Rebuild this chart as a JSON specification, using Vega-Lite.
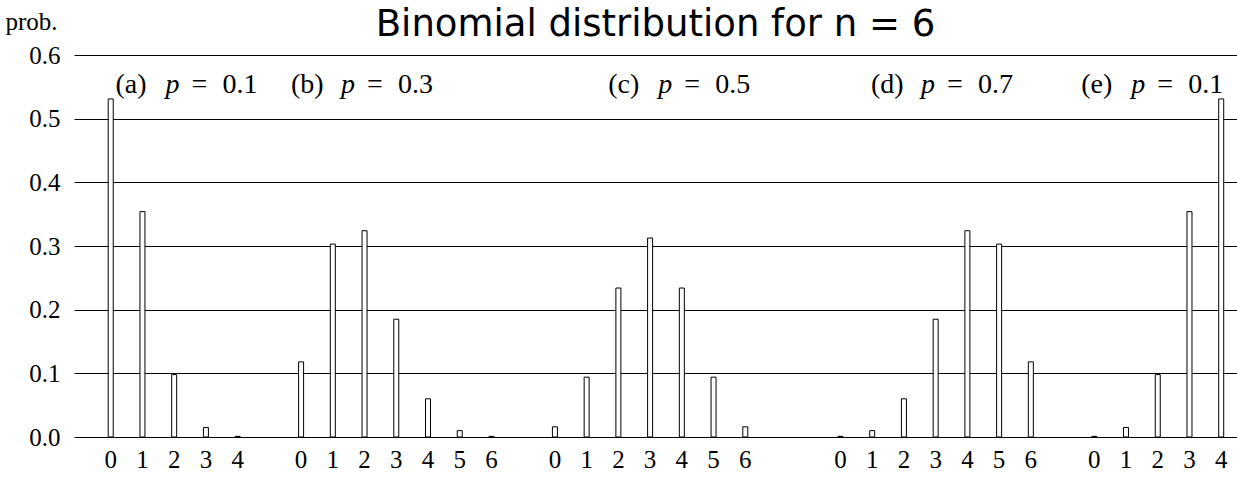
{
  "$schema": "https://vega.github.io/schema/vega-lite/v6.json",
  "width": 1163,
  "height": 382,
  "autosize": {"type": "none"},
  "padding": {"left": 74, "top": 55, "right": 0, "bottom": 43},
  "background": "white",
  "title": {"text": "Binomial distribution for n = 6", "font": "DejaVu Sans", "fontSize": 37, "fontWeight": "normal", "color": "black", "anchor": "middle", "offset": -35},
  "config": {"view": {"stroke": null}},
  "datasets": {
    "bars": [
      {"panel": "a", "k": 0, "slot": 0, "prob": 0.531},
      {"panel": "a", "k": 1, "slot": 1, "prob": 0.354},
      {"panel": "a", "k": 2, "slot": 2, "prob": 0.098},
      {"panel": "a", "k": 3, "slot": 3, "prob": 0.015},
      {"panel": "a", "k": 4, "slot": 4, "prob": 0.001},
      {"panel": "b", "k": 0, "slot": 6, "prob": 0.118},
      {"panel": "b", "k": 1, "slot": 7, "prob": 0.303},
      {"panel": "b", "k": 2, "slot": 8, "prob": 0.324},
      {"panel": "b", "k": 3, "slot": 9, "prob": 0.185},
      {"panel": "b", "k": 4, "slot": 10, "prob": 0.060},
      {"panel": "b", "k": 5, "slot": 11, "prob": 0.010},
      {"panel": "b", "k": 6, "slot": 12, "prob": 0.001},
      {"panel": "c", "k": 0, "slot": 14, "prob": 0.016},
      {"panel": "c", "k": 1, "slot": 15, "prob": 0.094},
      {"panel": "c", "k": 2, "slot": 16, "prob": 0.234},
      {"panel": "c", "k": 3, "slot": 17, "prob": 0.3125},
      {"panel": "c", "k": 4, "slot": 18, "prob": 0.234},
      {"panel": "c", "k": 5, "slot": 19, "prob": 0.094},
      {"panel": "c", "k": 6, "slot": 20, "prob": 0.016},
      {"panel": "d", "k": 0, "slot": 23, "prob": 0.001},
      {"panel": "d", "k": 1, "slot": 24, "prob": 0.010},
      {"panel": "d", "k": 2, "slot": 25, "prob": 0.060},
      {"panel": "d", "k": 3, "slot": 26, "prob": 0.185},
      {"panel": "d", "k": 4, "slot": 27, "prob": 0.324},
      {"panel": "d", "k": 5, "slot": 28, "prob": 0.303},
      {"panel": "d", "k": 6, "slot": 29, "prob": 0.118},
      {"panel": "e", "k": 0, "slot": 31, "prob": 0.001},
      {"panel": "e", "k": 1, "slot": 32, "prob": 0.015},
      {"panel": "e", "k": 2, "slot": 33, "prob": 0.098},
      {"panel": "e", "k": 3, "slot": 34, "prob": 0.354},
      {"panel": "e", "k": 4, "slot": 35, "prob": 0.531}
    ],
    "labels": [
      {"tag": "(a)", "p": "0.1", "slot": 0.15, "prob": 0.54},
      {"tag": "(b)", "p": "0.3", "slot": 5.68, "prob": 0.54},
      {"tag": "(c)", "p": "0.5", "slot": 15.68, "prob": 0.54},
      {"tag": "(d)", "p": "0.7", "slot": 23.96, "prob": 0.54},
      {"tag": "(e)", "p": "0.1", "slot": 30.59, "prob": 0.54}
    ]
  },
  "layer": [
    {
      "data": {"name": "bars"},
      "mark": {"type": "bar", "width": 5, "fill": "white", "stroke": "black", "strokeWidth": 1},
      "encoding": {
        "x": {"field": "slot", "type": "quantitative",
              "scale": {"domain": [-1, 35.34], "nice": false, "zero": false},
              "axis": null},
        "y": {"field": "prob", "type": "quantitative",
              "scale": {"domain": [0, 0.6], "nice": false},
              "axis": {"values": [0, 0.1, 0.2, 0.3, 0.4, 0.5, 0.6], "format": ".1f",
                       "grid": true, "gridColor": "black", "gridOpacity": 1, "gridWidth": 1,
                       "domain": false, "ticks": false,
                       "labelFont": "Liberation Serif", "labelFontSize": 25, "labelColor": "black", "labelPadding": 14,
                       "title": "prob.", "titleAngle": 0, "titleFont": "Liberation Serif", "titleFontSize": 25, "titleFontWeight": "normal", "titleColor": "black",
                       "titleAlign": "left", "titleBaseline": "alphabetic", "titleX": -69, "titleY": -26}}
      }
    },
    {
      "data": {"name": "bars"},
      "mark": {"type": "text", "font": "Liberation Serif", "fontSize": 25, "color": "black", "align": "center", "baseline": "alphabetic", "dy": 31},
      "encoding": {
        "x": {"field": "slot", "type": "quantitative"},
        "y": {"datum": 0, "type": "quantitative"},
        "text": {"field": "k"}
      }
    },
    {
      "data": {"name": "labels"},
      "mark": {"type": "text", "font": "Liberation Serif", "fontSize": 28, "color": "black", "align": "left", "baseline": "alphabetic"},
      "encoding": {
        "x": {"field": "slot", "type": "quantitative"},
        "y": {"field": "prob", "type": "quantitative"},
        "text": {"field": "tag"}
      }
    },
    {
      "data": {"name": "labels"},
      "mark": {"type": "text", "font": "Liberation Serif", "fontSize": 28, "fontStyle": "italic", "color": "black", "align": "left", "baseline": "alphabetic", "dx": 50},
      "encoding": {
        "x": {"field": "slot", "type": "quantitative"},
        "y": {"field": "prob", "type": "quantitative"},
        "text": {"value": "p"}
      }
    },
    {
      "data": {"name": "labels"},
      "mark": {"type": "text", "font": "Liberation Serif", "fontSize": 28, "color": "black", "align": "left", "baseline": "alphabetic", "dx": 76},
      "encoding": {
        "x": {"field": "slot", "type": "quantitative"},
        "y": {"field": "prob", "type": "quantitative"},
        "text": {"value": "="}
      }
    },
    {
      "data": {"name": "labels"},
      "mark": {"type": "text", "font": "Liberation Serif", "fontSize": 28, "color": "black", "align": "left", "baseline": "alphabetic", "dx": 107},
      "encoding": {
        "x": {"field": "slot", "type": "quantitative"},
        "y": {"field": "prob", "type": "quantitative"},
        "text": {"field": "p"}
      }
    }
  ]
}
